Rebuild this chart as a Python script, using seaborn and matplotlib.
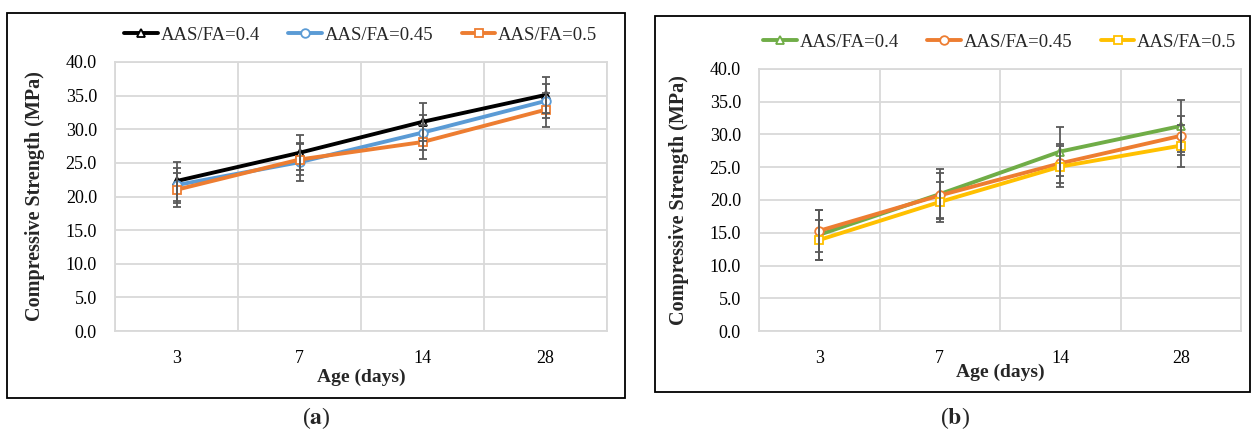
import matplotlib
matplotlib.use("Agg")
import matplotlib.pyplot as plt
from matplotlib.patches import Rectangle
import seaborn as sns
import numpy as np

# Curing ages (categorical axis)
ages = ["3", "7", "14", "28"]

# (a) series: mean strength and error (MPa)
a_labels = ["AAS/FA=0.4", "AAS/FA=0.45", "AAS/FA=0.5"]
a_04 = [22.3, 26.5, 31.1, 35.1]
a_045 = [21.7, 25.1, 29.5, 34.2]
a_05 = [21.0, 25.5, 28.1, 32.9]
a_04_err = [2.9, 2.6, 2.8, 2.7]
a_045_err = [2.6, 2.8, 2.6, 2.6]
a_05_err = [2.5, 2.3, 2.5, 2.5]

# (b) series
b_labels = ["AAS/FA=0.4", "AAS/FA=0.45", "AAS/FA=0.5"]
b_04 = [14.7, 20.9, 27.4, 31.3]
b_045 = [15.3, 20.7, 25.6, 29.8]
b_05 = [13.9, 19.7, 25.1, 28.3]
b_04_err = [3.8, 3.8, 3.7, 3.9]
b_045_err = [3.2, 3.4, 3.0, 3.0]
b_05_err = [3.1, 3.0, 3.1, 3.2]

y_ticks = [0, 5, 10, 15, 20, 25, 30, 35, 40]

sns.set_theme(style="white")
plt.rcParams["font.family"] = ["Liberation Serif", "DejaVu Serif"]
plt.rcParams["mathtext.fontset"] = "stix"

W, H = 1254, 434
fig = plt.figure(figsize=(W / 100, H / 100), dpi=100)
fig.patch.set_facecolor("white")

GRID = "#D9D9D9"
ERR = "#595959"


def px_axes(x0, x1, y0, y1):
    return fig.add_axes([x0 / W, 1 - y1 / H, (x1 - x0) / W, (y1 - y0) / H])


def draw_panel(ax, series, errs, labels, colors, markers, xlabelpad):
    pos = np.arange(len(ages)) + 0.5
    for vals, err, lab, col, mk in zip(series, errs, labels, colors, markers):
        sns.lineplot(x=pos, y=vals, ax=ax, color=col, lw=2.8, marker=mk,
                     markersize=6.2, markerfacecolor="white",
                     markeredgecolor=col, markeredgewidth=1.3,
                     label=lab, zorder=3)
        ax.errorbar(pos, vals, yerr=err, fmt="none", ecolor=ERR,
                    elinewidth=1.3, capsize=2.6, capthick=1.3, zorder=4)
    ax.set_xlim(0, len(ages))
    ax.set_ylim(0, 40)
    ax.set_yticks(y_ticks)
    ax.set_yticklabels([f"{v:.1f}" for v in y_ticks])
    ax.set_xticks(pos)
    ax.set_xticklabels(ages)
    ax.set_xticks(np.arange(len(ages) + 1), minor=True)
    ax.grid(False)
    ax.grid(True, which="minor", axis="x", color=GRID, lw=1.3)
    ax.grid(True, which="major", axis="y", color=GRID, lw=1.3)
    ax.set_axisbelow(True)
    for s in ax.spines.values():
        s.set_color(GRID)
        s.set_linewidth(1.3)
    ax.tick_params(axis="both", which="both", length=0, labelsize=13,
                   colors="black")
    ax.tick_params(axis="x", pad=14)
    ax.tick_params(axis="y", pad=13)
    ax.set_xlabel("Age (days)", fontsize=14, fontweight="bold",
                  labelpad=xlabelpad)
    ax.set_ylabel("Compressive Strength (MPa)", fontsize=14.5,
                  fontweight="bold", labelpad=15)
    ax.legend(loc="lower center", bbox_to_anchor=(0.5, 1.04), ncol=3,
              frameon=False, fontsize=13.5, handlelength=1.8,
              handletextpad=0.15, columnspacing=1.5, borderaxespad=0)


ax_a = px_axes(115, 607, 62, 331)
draw_panel(ax_a, [a_04, a_045, a_05], [a_04_err, a_045_err, a_05_err],
           a_labels, ["#000000", "#5B9BD5", "#ED7D31"], ["^", "o", "s"], 1)

ax_b = px_axes(759, 1241, 69, 331)
draw_panel(ax_b, [b_04, b_045, b_05], [b_04_err, b_045_err, b_05_err],
           b_labels, ["#70AD47", "#ED7D31", "#FFC000"], ["^", "o", "s"], -3)

# Panel frames
for x0, x1, y0, y1 in [(7, 625, 13, 398), (655, 1250, 16, 392)]:
    fig.add_artist(Rectangle((x0 / W, 1 - y1 / H), (x1 - x0) / W,
                             (y1 - y0) / H, transform=fig.transFigure,
                             fill=False, ec="black", lw=1.3))

fig.text(316 / W, 1 - 418 / H, r"($\mathbf{a}$)", ha="center", va="center",
         fontsize=17)
fig.text(955 / W, 1 - 418 / H, r"($\mathbf{b}$)", ha="center", va="center",
         fontsize=17)

fig.savefig("out.png", dpi=100, facecolor="white")
